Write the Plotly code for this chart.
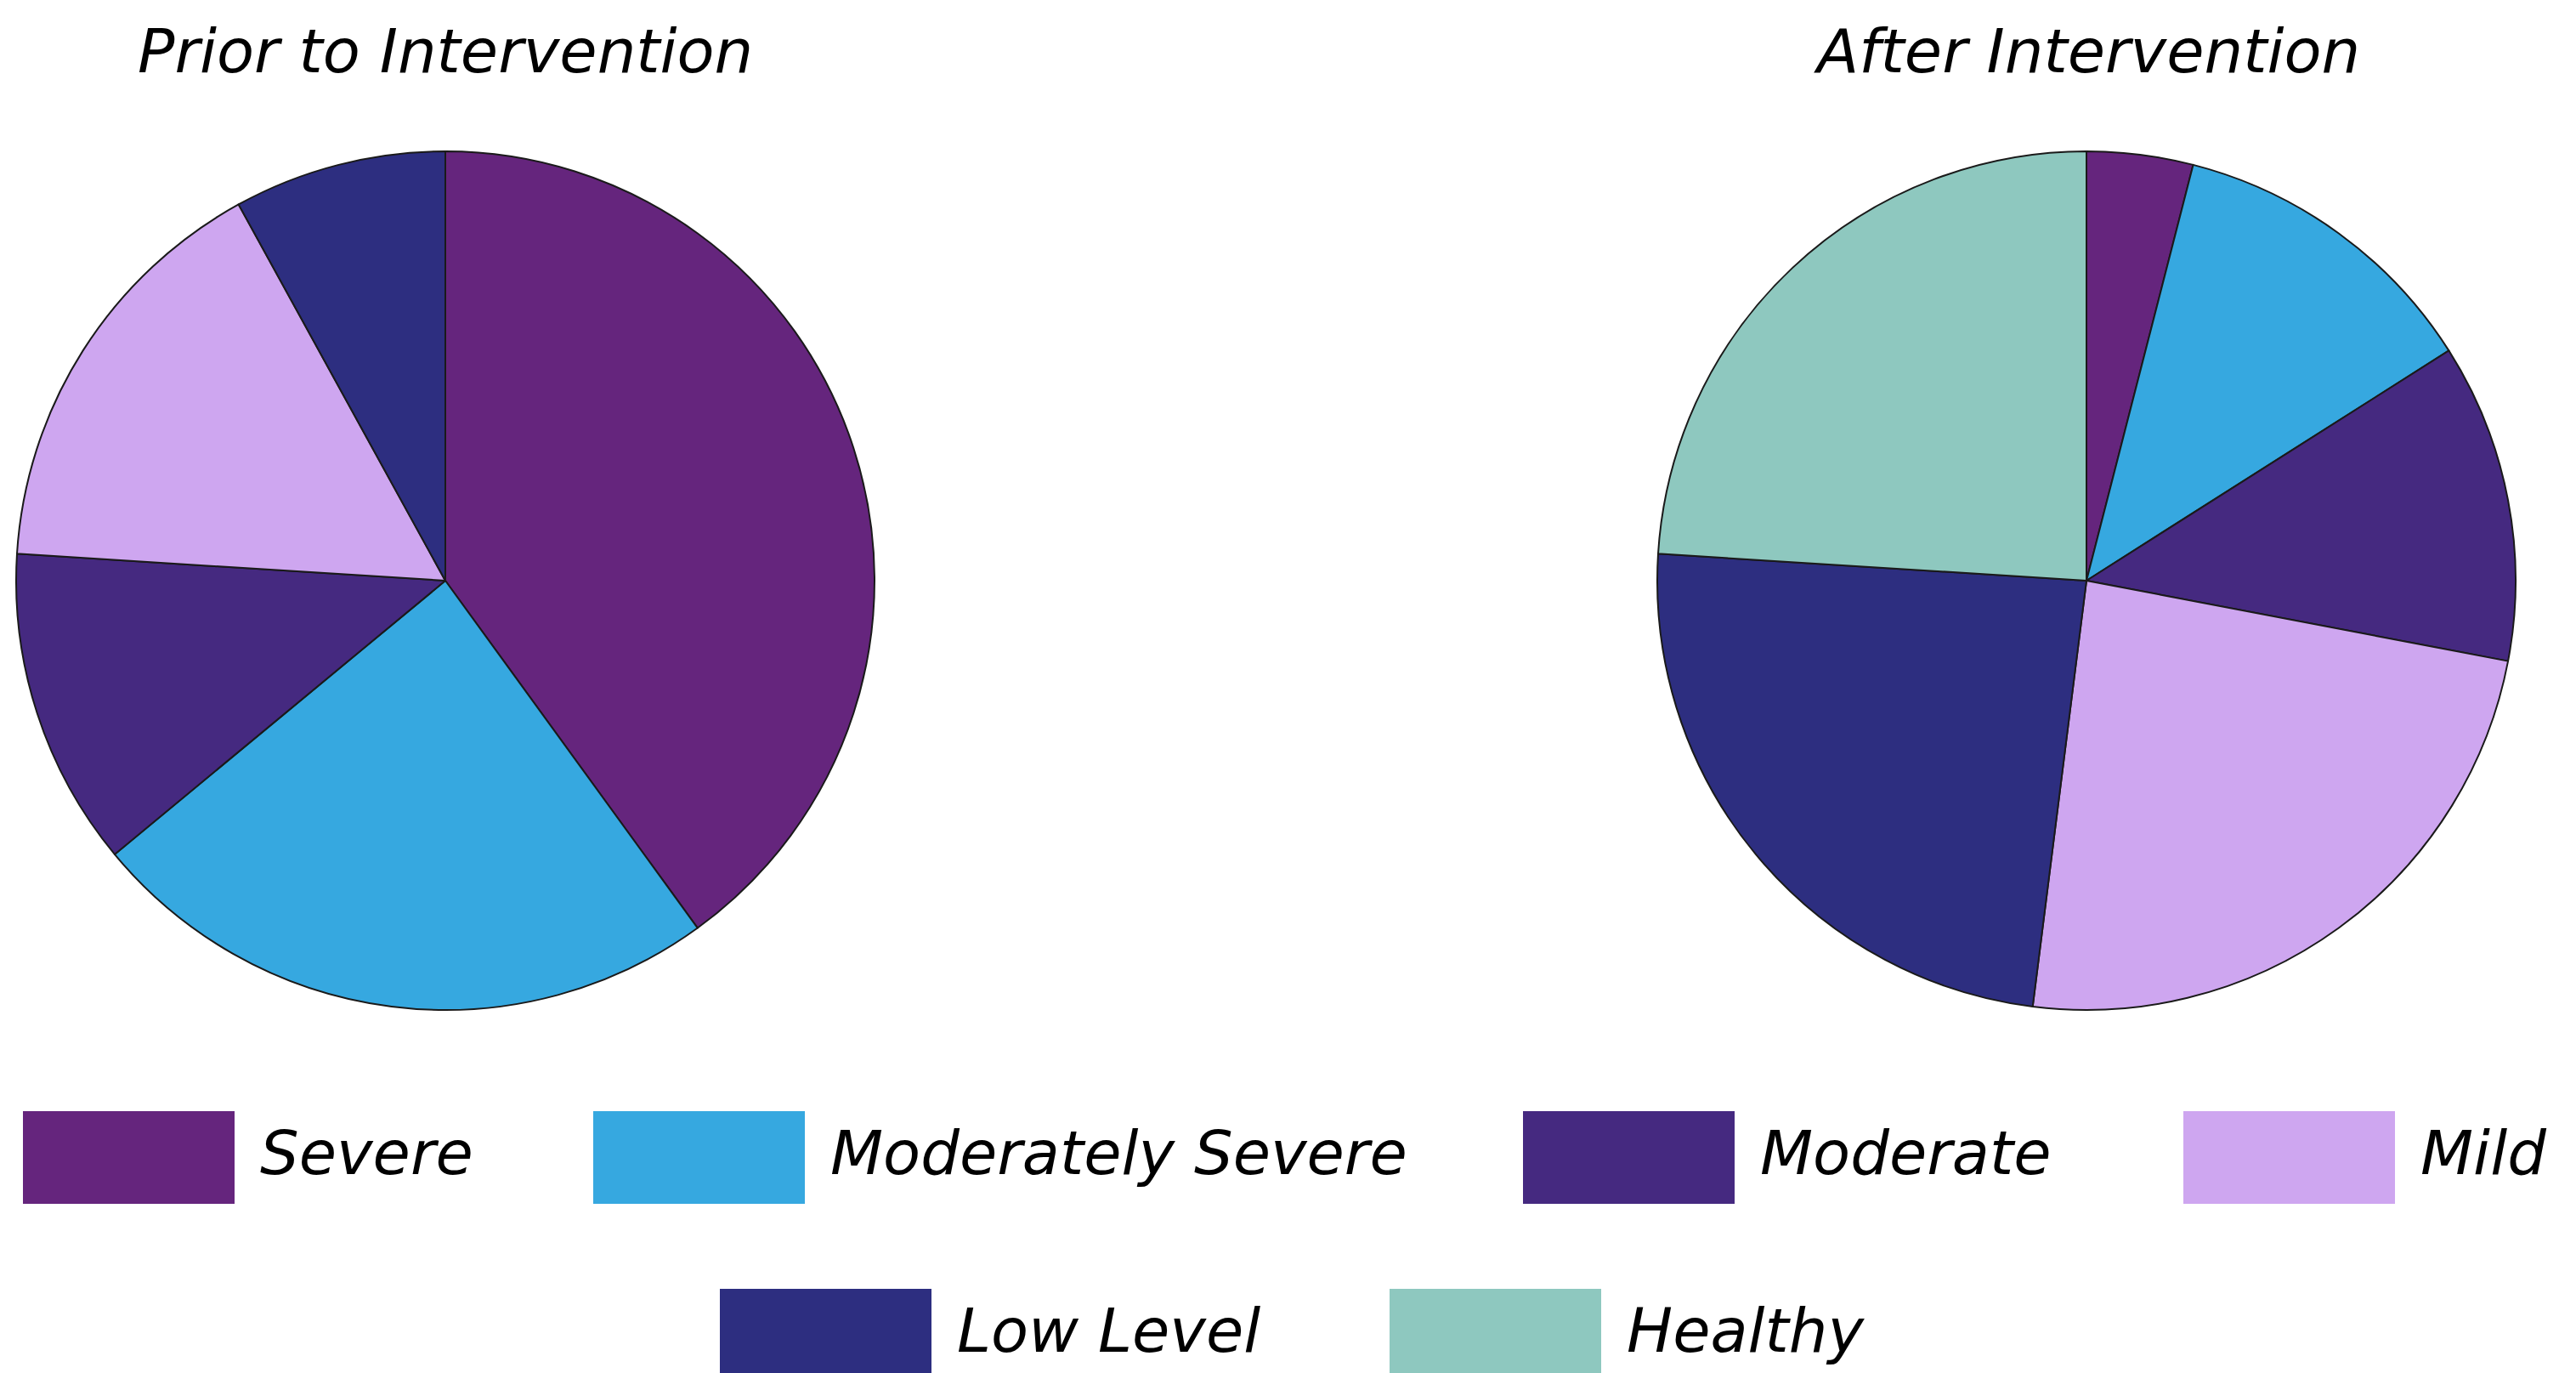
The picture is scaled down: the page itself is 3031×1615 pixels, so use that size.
import plotly.graph_objects as go

# Severity categories and their colours
categories = ["Severe", "Moderately Severe", "Moderate", "Mild", "Low Level", "Healthy"]
colors = ["#65257D", "#36A8E0", "#452980", "#CEA6F0", "#2D2E80", "#8EC8BF"]

# Share of participants (%) in each category
prior_values = [40, 24, 12, 16, 8, 0]
after_values = [4, 12, 12, 24, 24, 24]

titles = ["Prior to Intervention", "After Intervention"]

W, H = 3031, 1615
FONT = "DejaVu Sans"
FONT_SIZE = 72


def px(x):
    return x / W


def py(y):
    return 1 - y / H


fig = go.Figure()

# pie placement in pixels: (centre x, centre y, radius)
pies = [(524, 683, 505), (2455, 683, 505)]
for vals, (cx, cy, r) in zip([prior_values, after_values], pies):
    fig.add_trace(go.Pie(
        labels=categories,
        values=vals,
        sort=False,
        direction="clockwise",
        rotation=0,
        marker=dict(colors=colors, line=dict(color="#1a1a1a", width=2)),
        textinfo="none",
        showlegend=False,
        domain=dict(x=[px(cx - r), px(cx + r)], y=[py(cy + r), py(cy - r)]),
    ))

for title, (cx, cy, r) in zip(titles, pies):
    fig.add_annotation(
        text=title, x=px(cx), y=py(60), xref="paper", yref="paper",
        xanchor="center", yanchor="middle", showarrow=False,
        font=dict(family=FONT, size=FONT_SIZE, color="black", style="italic"),
    )

# legend: coloured boxes followed by labels, two rows
box_w, box_h = 249, 109
legend_pos = [(27, 1307), (698, 1307), (1792, 1307), (2569, 1307),
              (847, 1516), (1635, 1516)]
for label, color, (lx, ly) in zip(categories, colors, legend_pos):
    fig.add_shape(
        type="rect", xref="paper", yref="paper",
        x0=px(lx), x1=px(lx + box_w), y0=py(ly + box_h), y1=py(ly),
        fillcolor=color, line=dict(width=0),
    )
    fig.add_annotation(
        text=label, x=px(lx + box_w + 28), y=py(ly + box_h / 2 - 6),
        xref="paper", yref="paper", xanchor="left", yanchor="middle",
        showarrow=False,
        font=dict(family=FONT, size=FONT_SIZE, color="black", style="italic"),
    )

fig.update_layout(
    width=W, height=H,
    margin=dict(l=0, r=0, t=0, b=0),
    paper_bgcolor="white", plot_bgcolor="white",
)

fig.write_html("out.html")
